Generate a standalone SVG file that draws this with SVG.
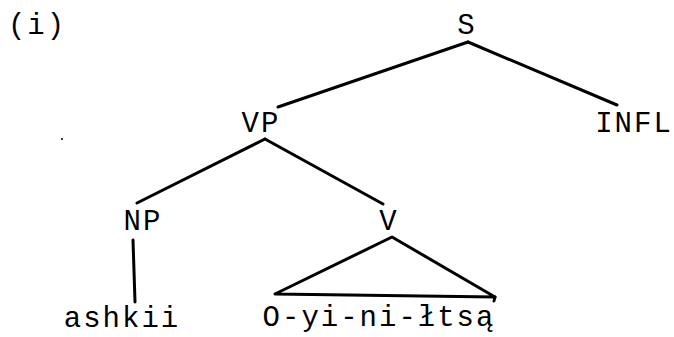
<svg xmlns="http://www.w3.org/2000/svg" width="674" height="337" viewBox="0 0 674 337">
<style>
text{font-family:"Liberation Mono","DejaVu Sans Mono",monospace;font-size:29px;fill:#000;text-anchor:middle;letter-spacing:2px}
.e{stroke:#000;stroke-width:3;fill:none;stroke-linecap:round;stroke-linejoin:round}
</style>
<rect width="674" height="337" fill="#fff"/>
<text x="37" y="34">(i)</text>
<g id="connectors">
<line class="e" x1="468" y1="42" x2="278" y2="107"/>
<line class="e" x1="468" y1="42" x2="617" y2="105"/>
<line class="e" x1="265" y1="139" x2="137" y2="203"/>
<line class="e" x1="265" y1="139" x2="383" y2="204"/>
<line class="e" x1="133" y1="240" x2="135" y2="302"/>
<polygon class="e" points="392,237 275,294 495,297"/>
<line class="e" x1="495" y1="297" x2="494" y2="301"/>
</g>
<g id="n-S"><text x="467" y="34">S</text></g>
<g id="n-VP"><text x="261" y="132">VP</text></g>
<g id="n-INFL"><text x="634" y="132">INFL</text></g>
<g id="n-NP"><text x="143" y="230">NP</text></g>
<g id="n-V"><text x="389" y="230">V</text></g>
<g id="n-ashkii"><text x="122" y="327">ashkii</text></g>
<g id="n-O"><text x="379" y="326">O-yi-ni-łtsą</text></g>
<circle cx="62" cy="139" r="1" fill="#000"/>
</svg>
